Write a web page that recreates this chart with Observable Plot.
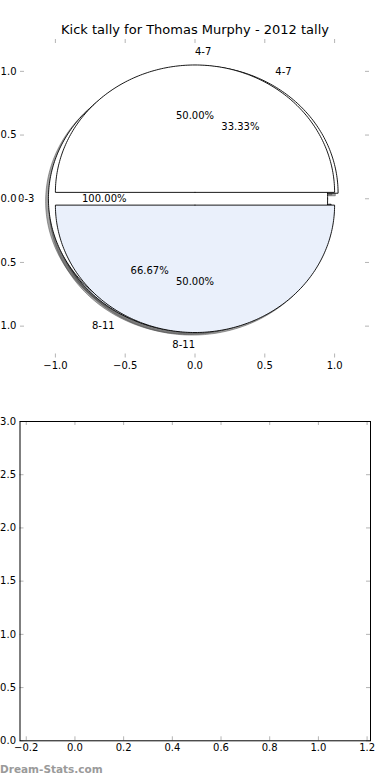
<!DOCTYPE html>
<html>
<head>
<meta charset="utf-8">
<script src="https://cdn.jsdelivr.net/npm/d3@7"></script>
<script src="https://cdn.jsdelivr.net/npm/@observablehq/plot@0.6"></script>
<style>
  body { margin: 0; background: #fff; }
  #wrap { position: relative; width: 390px; height: 780px; overflow: hidden; background: #fff; font-family: "DejaVu Sans", sans-serif; }
  #wrap svg { position: absolute; left: 0; background: transparent; }
  #credit { position: absolute; left: 0; top: 763px; font: bold 10.5px "DejaVu Sans", sans-serif; color: #9a9a9a; }
</style>
</head>
<body>
<div id="wrap"><div id="credit">Dream-Stats.com</div></div>
<script>
// ---- data ----
const chartTitle = "Kick tally for Thomas Murphy - 2012 tally";
// pies are drawn in this order (first is underneath)
const pieB_labels = ["4-7", "8-11"];
const pieB_values = [33.33, 66.67];
const pieC_labels = ["0-3"];
const pieC_values = [100.00];
const pieA_labels = ["4-7", "8-11"];
const pieA_values = [50.00, 50.00];
const sliceColors = {"0-3": "#ffffff", "4-7": "#ffffff", "8-11": "#eaf0fb"};
const explodeAmount = 0.05;
const xTicksTop = [-1.0, -0.5, 0.0, 0.5, 1.0];
const yTicksTop = [-1.0, -0.5, 0.0, 0.5, 1.0];
const xTicksBottom = [-0.2, 0.0, 0.2, 0.4, 0.6, 0.8, 1.0, 1.2];
const yTicksBottom = [0.0, 0.5, 1.0, 1.5, 2.0, 2.5, 3.0];

const fmt = d => d.toFixed(1).replace("-", "\u2212");
const FONT = "DejaVu Sans";

// ---- build wedges from values ----
function buildPie(labels, values, pid) {
  const total = d3.sum(values);
  let cum = 0;
  return labels.map((lab, i) => {
    const t1 = 360 * cum / total;
    cum += values[i];
    const t2 = 360 * cum / total;
    const tm = (t1 + t2) / 2 * Math.PI / 180;
    const cx = explodeAmount * Math.cos(tm), cy = explodeAmount * Math.sin(tm);
    const pts = [];
    const full = Math.abs(t2 - t1 - 360) < 1e-9;
    if (!full) pts.push({x: cx, y: cy});
    const n = Math.max(2, Math.ceil((t2 - t1)));
    for (let k = 0; k <= n; k++) {
      const a = (t1 + (t2 - t1) * k / n) * Math.PI / 180;
      pts.push({x: cx + Math.cos(a), y: cy + Math.sin(a)});
    }
    pts.push({...pts[0]});
    const lx = cx + 1.1 * Math.cos(tm), ly = cy + 1.1 * Math.sin(tm);
    return {
      id: pid + i, label: lab, pts, color: sliceColors[lab],
      lab: {x: lx, y: ly, text: lab, align: lx > 0 ? "start" : "end"},
      pct: {x: cx + 0.6 * Math.cos(tm), y: cy + 0.6 * Math.sin(tm), text: (100 * values[i] / total).toFixed(2) + "%"}
    };
  });
}
const wedges = [
  ...buildPie(pieB_labels, pieB_values, "B"),
  ...buildPie(pieC_labels, pieC_values, "C"),
  ...buildPie(pieA_labels, pieA_values, "A")
];

// ---- top chart ----
const H1 = 380, W = 390;
const m1 = {top: 39, bottom: 22.5, left: 20, right: 21};
const fh1 = H1 - m1.top - m1.bottom, fw1 = W - m1.left - m1.right;
const tickGray = "#b4b4b4";

const shadowMarks = wedges.map(w => Plot.line(w.pts, {
  x: d => d.x - 0.02, y: d => d.y - 0.02,
  fill: "#4d4d4d", fillOpacity: 0.5, stroke: "#4d4d4d", strokeOpacity: 0.5, strokeWidth: 1
}));
const wedgeMarks = wedges.map(w => Plot.line(w.pts, {
  x: "x", y: "y", fill: w.color, stroke: "black", strokeWidth: 0.9, strokeLinejoin: "miter"
}));
const labs = wedges.map(w => w.lab);
const pcts = wedges.map(w => w.pct);

const topChart = Plot.plot({
  width: W, height: H1,
  marginTop: m1.top, marginBottom: m1.bottom, marginLeft: m1.left, marginRight: m1.right,
  style: {fontFamily: FONT, fontSize: "10px", color: "black", background: "transparent", overflow: "visible"},
  x: {domain: [-1.25, 1.25]},
  y: {domain: [-1.25, 1.25]},
  marks: [
    ...shadowMarks,
    ...wedgeMarks,
    Plot.text(labs.filter(d => d.align === "start"), {x: "x", y: "y", text: "text", textAnchor: "start", fontSize: 10, fill: "black"}),
    Plot.text(labs.filter(d => d.align === "end"), {x: "x", y: "y", text: "text", textAnchor: "end", fontSize: 10, fill: "black"}),
    Plot.text(pcts, {x: "x", y: "y", text: "text", textAnchor: "middle", fontSize: 10, fill: "black"}),
    Plot.tickX(xTicksTop, {x: d => d, insetBottom: fh1 - 4, stroke: tickGray}),
    Plot.tickX(xTicksTop, {x: d => d, insetTop: fh1 - 4, stroke: tickGray}),
    Plot.tickY(yTicksTop, {y: d => d, insetRight: fw1 - 4, stroke: tickGray}),
    Plot.tickY(yTicksTop, {y: d => d, insetLeft: fw1 - 4, stroke: tickGray}),
    Plot.axisX(xTicksTop, {anchor: "bottom", tickSize: 0, tickPadding: 4, tickFormat: fmt, label: null, fill: "black"}),
    Plot.axisY(yTicksTop, {anchor: "left", tickSize: 0, tickPadding: 4, tickFormat: fmt, label: null, fill: "black"}),
    Plot.text([chartTitle], {frameAnchor: "top", lineAnchor: "bottom", dy: -6, text: d => d, fontSize: 13, fill: "black"})
  ]
});
topChart.style.top = "0px";

// ---- bottom chart (empty axes) ----
const H2 = 380;
const m2 = {top: 41, bottom: 19.7, left: 19.5, right: 20};
const fh2 = H2 - m2.top - m2.bottom, fw2 = W - m2.left - m2.right;
const bottomChart = Plot.plot({
  width: W, height: H2,
  marginTop: m2.top, marginBottom: m2.bottom, marginLeft: m2.left, marginRight: m2.right,
  style: {fontFamily: FONT, fontSize: "10px", color: "black", background: "transparent", overflow: "visible"},
  x: {domain: [-0.2257, 1.214]},
  y: {domain: [0, 3]},
  marks: [
    Plot.tickX(xTicksBottom, {x: d => d, insetBottom: fh2 - 4, stroke: tickGray}),
    Plot.tickX(xTicksBottom, {x: d => d, insetTop: fh2 - 4, stroke: tickGray}),
    Plot.tickY(yTicksBottom, {y: d => d, insetRight: fw2 - 4, stroke: tickGray}),
    Plot.tickY(yTicksBottom, {y: d => d, insetLeft: fw2 - 4, stroke: tickGray}),
    Plot.frame({stroke: "black", strokeWidth: 1}),
    Plot.axisX(xTicksBottom, {anchor: "bottom", tickSize: 0, tickPadding: 3, tickFormat: fmt, label: null, fill: "black"}),
    Plot.axisY(yTicksBottom, {anchor: "left", tickSize: 0, tickPadding: 4, tickFormat: fmt, label: null, fill: "black"})
  ]
});
bottomChart.style.top = "380px";

const wrap = document.getElementById("wrap");
wrap.insertBefore(bottomChart, wrap.firstChild);
wrap.insertBefore(topChart, wrap.firstChild);
</script>
</body>
</html>
